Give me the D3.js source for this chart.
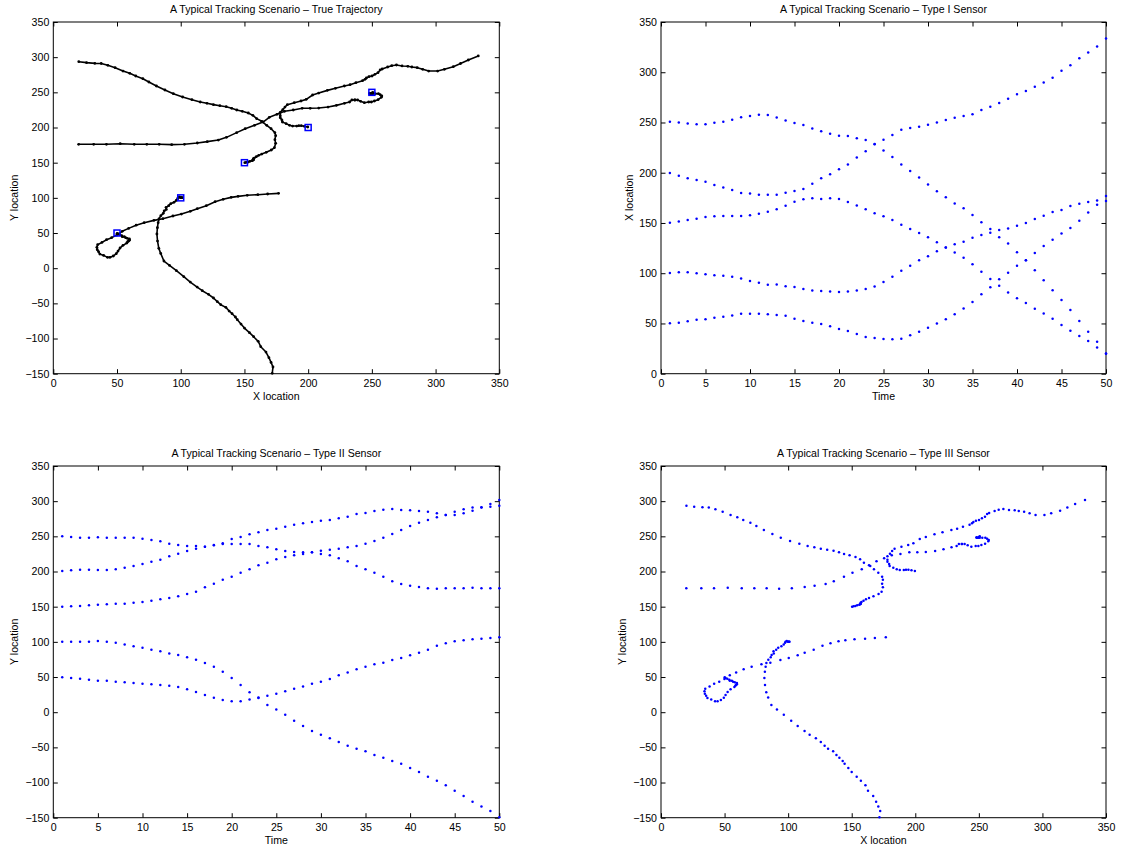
<!DOCTYPE html>
<html>
<head>
<meta charset="utf-8">
<script src="https://cdn.jsdelivr.net/npm/d3@7"></script>
<style>
  body { margin: 0; background: #fff; }
  svg text { font-family: "Liberation Sans", Arial, Helvetica, sans-serif; font-size: 10.6px; fill: #000; }
</style>
</head>
<body>
<svg id="figure" width="1124" height="847"></svg>
<script>
// time steps of the scenario (one sample per step)
const timeSteps = [1,2,3,4,5,6,7,8,9,10, 11,12,13,14,15,16,17,18,19,20,
  21,22,23,24,25,26,27,28,29,30, 31,32,33,34,35,36,37,38,39,40,
  41,42,43,44,45,46,47,48,49,50];

// target 1 starts at (50,50)
const target1X = [50.1,50.8,52.1,53.7,54.1,55.7,56.7,58.0,59.7,59.7, 59.7,59.1,58.4,57.7,54.7,52.4,50.8,49.4,47.1,44.5,
  42.5,39.5,36.5,35.5,34.5,34.2,34.8,38.2,41.8,45.8, 49.9,54.1,59.1,65.0,71.3,79.0,86.0,93.9,100.5,107.5,
  113.0,120.1,127.0,133.3,139.6,145.0,152.2,160.5,168.2,176.8];
const target1Y = [49.5,48.6,47.6,46.2,44.8,44.8,43.4,42.4,41.5,40.5, 39.6,38.6,37.7,35.8,32.5,28.7,24.4,20.6,17.3,15.4,
  15.4,18.2,20.1,23.5,26.3,29.6,33.4,36.7,40.5,43.4, 47.2,52.4,56.6,61.1,64.7,68.0,70.4,74.2,77.0,80.8,
  84.6,88.9,94.5,97.9,100.7,102.1,103.6,104.5,105.5,106.4];

// target 2 starts at (100,100)
const target2X = [100.2,100.9,100.9,99.9,98.9,98.0,97.6,96.5,94.7,92.2, 90.6,88.5,88.7,87.0,86.3,84.4,82.9,82.3,81.7,81.3,
  81.8,82.8,84.3,86.8,91.2,96.6,102.4,107.5,112.9,116.9, 121.8,125.7,128.7,131.4,135.4,138.0,140.3,142.9,144.4,147.3,
  150.0,153.9,157.2,160.8,162.8,166.9,169.2,170.9,172.4,171.8];
const target2Y = [100.2,100.2,100.2,100.2,101.2,100.2,98.8,96.4,93.6,91.7, 88.9,86.5,83.6,81.3,78.0,74.6,69.9,64.7,57.6,48.6,
  38.6,28.2,21.0,10.2,4.0,-3.6,-12.1,-19.7,-26.8,-32.0, -37.2,-42.4,-47.6,-51.9,-55.7,-60.9,-64.7,-69.4,-73.2,-79.4,
  -85.1,-91.7,-97.4,-104.0,-111.6,-119.2,-127.2,-133.9,-140.5,-149.5];

// target 3 starts at (150,150)
const target3X = [150.3,151.5,152.9,154.3,156.0,156.6,157.0,157.0,157.0,157.7, 159.3,161.2,163.6,167.1,171.1,173.5,174.5,173.9,174.5,173.9,
  170.9,167.5,163.6,159.6,156.6,153.0,148.3,144.0,140.0,135.7, 130.7,125.7,120.6,115.3,108.8,101.5,94.2,87.6,80.9,75.0,
  70.3,64.7,60.0,54.7,48.5,42.8,37.6,32.6,26.1,20.0];
const target3Y = [150.0,150.5,151.0,151.9,152.8,153.3,154.3,154.3,155.7,156.6, 158.5,160.4,162.3,164.7,168.0,171.3,177.5,182.7,188.4,192.7,
  198.3,203.1,208.8,212.6,217.3,220.6,223.0,224.9,227.3,229.6, 231.0,232.5,234.4,236.3,239.6,243.4,248.1,253.3,259.0,264.7,
  269.4,273.2,277.0,280.3,285.0,288.4,291.0,291.2,292.2,293.6];

// target 4 starts at (200,200)
const target4X = [199.7,197.0,194.6,192.7,191.0,187.8,185.4,182.7,179.8,179.4, 178.1,178.1,178.1,180.1,181.8,183.7,189.1,194.4,198.5,203.5,
  208.3,215.1,221.4,228.4,232.9,237.5,242.7,244.6,245.7,247.7, 250.1,252.4,254.8,256.5,258.1,262.4,265.6,269.3,273.7,278.2,
  281.4,285.6,289.9,294.6,301.6,306.9,313.9,319.6,325.7,333.5];
const target4Y = [200.7,201.7,202.6,202.6,202.1,202.1,203.1,205.5,207.8,210.7, 214.0,216.8,221.6,225.4,229.1,232.5,235.3,237.7,240.0,246.2,
  249.0,252.8,255.7,259.0,260.9,263.7,266.6,268.5,270.4,272.3, 273.2,275.6,278.0,281.8,283.2,286.0,287.9,288.9,287.5,287.0,
  286.0,285.1,282.7,280.3,280.3,282.7,286.5,291.0,296.0,301.7];

// target 5 starts at (250,250)
const target5X = [250.7,250.0,248.9,248.2,248.2,249.7,250.7,252.7,255.1,256.5, 257.8,257.4,254.9,252.0,249.6,247.5,244.1,241.2,238.8,236.8,
  236.5,234.3,232.5,228.5,222.2,215.6,208.3,201.6,195.3,188.3, 181.5,175.5,169.5,164.6,157.9,150.6,143.9,135.9,129.5,120.8,
  113.0,102.9,92.9,83.1,73.4,63.5,52.5,41.7,31.7,19.9];
const target5Y = [250.0,249.0,248.1,248.1,248.6,248.1,248.1,248.1,248.1,246.7, 244.8,242.9,239.6,237.7,236.3,236.3,235.3,237.2,239.1,239.1,
  239.1,239.1,236.3,234.4,231.5,229.1,227.7,227.3,227.3,224.9, 223.0,218.7,214.5,207.8,203.1,198.3,192.7,186.0,182.2,179.9,
  178.0,176.1,175.6,176.1,176.1,176.1,177.0,176.1,176.1,176.1];

// initial positions (blue squares)
const startX = [50, 100, 150, 200, 250];
const startY = [50, 100, 150, 200, 250];

// tick labels
const locationTicks = [0, 50, 100, 150, 200, 250, 300, 350];
const signedTicks = [-150, -100, -50, 0, 50, 100, 150, 200, 250, 300, 350];
const timeTicks = [0, 5, 10, 15, 20, 25, 30, 35, 40, 45, 50];

const titles = [
  "A Typical Tracking Scenario \u2013 True Trajectory",
  "A Typical Tracking Scenario \u2013 Type I Sensor",
  "A Typical Tracking Scenario \u2013 Type II Sensor",
  "A Typical Tracking Scenario \u2013 Type III Sensor"
];

const tracksX = [target1X, target2X, target3X, target4X, target5X];
const tracksY = [target1Y, target2Y, target3Y, target4Y, target5Y];

function getConfig() {
  let tickLen = 4.5;
  let panels = {
    tl: {left: 53.3, top: 22, width: 446, height: 351.7, yLabelOffset: 39},
    tr: {left: 661, top: 22, width: 445, height: 351.7, yLabelOffset: 32},
    bl: {left: 53.3, top: 466, width: 446, height: 351.7, yLabelOffset: 39},
    br: {left: 661, top: 466, width: 445, height: 351.7, yLabelOffset: 38.5}
  };
  let container = d3.select("#figure");
  return {tickLen, panels, container};
}

function getScales(panel, xDomain, yDomain) {
  let xScale = d3.scaleLinear().domain(xDomain).range([0, panel.width]);
  let yScale = d3.scaleLinear().domain(yDomain).range([panel.height, 0]);
  return {xScale, yScale};
}

// axes box, inward ticks on all four sides, title and labels
function drawFrame(config, panel, scales, labels) {
  let {container, tickLen} = config;
  let {xScale, yScale} = scales;

  let g = container.append("g")
    .attr("transform", "translate(" + panel.left + "," + panel.top + ")");

  g.append("g")
    .attr("transform", "translate(0," + panel.height + ")")
    .call(d3.axisBottom(xScale).tickValues(labels.xTicks).tickSizeInner(-tickLen).tickSizeOuter(0).tickPadding(6))
    .call(a => a.select(".domain").remove());
  g.append("g")
    .call(d3.axisTop(xScale).tickValues(labels.xTicks).tickSizeInner(-tickLen).tickSizeOuter(0).tickFormat(""))
    .call(a => a.select(".domain").remove());
  g.append("g")
    .call(d3.axisLeft(yScale).tickValues(labels.yTicks).tickSizeInner(-tickLen).tickSizeOuter(0).tickPadding(4))
    .call(a => a.select(".domain").remove());
  g.append("g")
    .attr("transform", "translate(" + panel.width + ",0)")
    .call(d3.axisRight(yScale).tickValues(labels.yTicks).tickSizeInner(-tickLen).tickSizeOuter(0).tickFormat(""))
    .call(a => a.select(".domain").remove());

  g.append("rect")
    .attr("width", panel.width)
    .attr("height", panel.height)
    .attr("fill", "none")
    .attr("stroke", "#000")
    .attr("stroke-width", 1);

  g.append("text")
    .attr("x", panel.width / 2)
    .attr("y", -9)
    .attr("text-anchor", "middle")
    .text(labels.title);

  g.append("text")
    .attr("x", panel.width / 2)
    .attr("y", panel.height + 26.5)
    .attr("text-anchor", "middle")
    .text(labels.xLabel);

  g.append("text")
    .attr("transform", "translate(" + (-panel.yLabelOffset) + "," + (panel.height / 2) + ")rotate(-90)")
    .attr("dy", "0.35em")
    .attr("text-anchor", "middle")
    .text(labels.yLabel);

  return g;
}

function drawTrajectory(g, scales) {
  let {xScale, yScale} = scales;
  let line = d3.line()
    .x(d => xScale(d.x))
    .y(d => yScale(d.y));

  tracksX.forEach((xs, k) => {
    let pts = xs.map((v, i) => ({x: v, y: tracksY[k][i]}));
    g.append("path")
      .datum(pts)
      .attr("d", line)
      .attr("fill", "none")
      .attr("stroke", "#000")
      .attr("stroke-width", 1.6)
      .attr("stroke-linejoin", "round");
    g.selectAll(".mark" + k)
      .data(pts)
      .enter()
      .append("circle")
      .attr("class", "mark" + k)
      .attr("cx", d => xScale(d.x))
      .attr("cy", d => yScale(d.y))
      .attr("r", 1.4)
      .attr("fill", "#000");
  });

  g.selectAll(".start")
    .data(startX.map((v, i) => ({x: v, y: startY[i]})))
    .enter()
    .append("rect")
    .attr("class", "start")
    .attr("x", d => xScale(d.x) - 3)
    .attr("y", d => yScale(d.y) - 3)
    .attr("width", 6)
    .attr("height", 6)
    .attr("fill", "none")
    .attr("stroke", "#0000ff")
    .attr("stroke-width", 1.5);
}

function drawDots(g, scales, points) {
  let {xScale, yScale} = scales;
  g.selectAll(".dot")
    .data(points)
    .enter()
    .append("circle")
    .attr("class", "dot")
    .attr("cx", d => xScale(d.x))
    .attr("cy", d => yScale(d.y))
    .attr("r", 1.25)
    .attr("fill", "#0000ff");
}

function drawFigure() {
  let config = getConfig();
  let {panels} = config;

  // true trajectory
  let s = getScales(panels.tl, [0, 350], [-150, 350]);
  let g = drawFrame(config, panels.tl, s,
    {title: titles[0], xLabel: "X location", yLabel: "Y location", xTicks: locationTicks, yTicks: signedTicks});
  drawTrajectory(g, s);

  // type I: x location over time
  s = getScales(panels.tr, [0, 50], [0, 350]);
  g = drawFrame(config, panels.tr, s,
    {title: titles[1], xLabel: "Time", yLabel: "X location", xTicks: timeTicks, yTicks: locationTicks});
  drawDots(g, s, tracksX.flatMap(xs => xs.map((v, i) => ({x: timeSteps[i], y: v}))));

  // type II: y location over time
  s = getScales(panels.bl, [0, 50], [-150, 350]);
  g = drawFrame(config, panels.bl, s,
    {title: titles[2], xLabel: "Time", yLabel: "Y location", xTicks: timeTicks, yTicks: signedTicks});
  drawDots(g, s, tracksY.flatMap(ys => ys.map((v, i) => ({x: timeSteps[i], y: v}))));

  // type III: x,y position
  s = getScales(panels.br, [0, 350], [-150, 350]);
  g = drawFrame(config, panels.br, s,
    {title: titles[3], xLabel: "X location", yLabel: "Y location", xTicks: locationTicks, yTicks: signedTicks});
  drawDots(g, s, tracksX.flatMap((xs, k) => xs.map((v, i) => ({x: v, y: tracksY[k][i]}))));
}

drawFigure();
</script>
</body>
</html>
